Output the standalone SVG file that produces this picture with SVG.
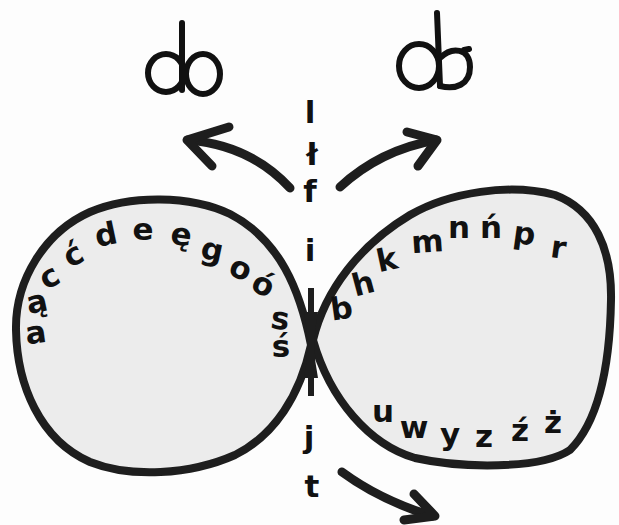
<svg xmlns="http://www.w3.org/2000/svg" width="619" height="525" viewBox="0 0 619 525">
<style>
.blob{fill:#ececec;stroke:#1e1e1e;stroke-width:8;stroke-linejoin:round}
.sym{fill:none;stroke:#111;stroke-width:6;stroke-linecap:round}
.arr{fill:none;stroke:#1e1e1e;stroke-width:9;stroke-linecap:round;stroke-linejoin:round}
text{font-family:"DejaVu Sans","Liberation Sans",sans-serif;font-size:31px;font-weight:bold;fill:#111;text-anchor:middle}
</style>
<rect width="619" height="525" fill="#fdfdfd"/>
<g id="left-blob">
<path class="blob" d="M 311 345 C 300 290, 280 240, 230 214 C 190 195, 130 195, 90 212 C 45 232, 15 280, 16 330 C 17 385, 40 440, 90 462 C 130 478, 190 475, 235 455 C 275 435, 300 395, 311 345 Z"/>
<text transform="translate(37,343) rotate(-8)">a</text>
<text transform="translate(39,312) rotate(-12)">ą</text>
<text transform="translate(54,286) rotate(-28)">c</text>
<text transform="translate(78,264) rotate(-28)">ć</text>
<text transform="translate(108,245) rotate(-12)">d</text>
<text transform="translate(143,240)">e</text>
<text transform="translate(180,245) rotate(8)">ę</text>
<text transform="translate(210,260) rotate(12)">g</text>
<text transform="translate(237,278) rotate(22)">o</text>
<text transform="translate(259,294) rotate(25)">ó</text>
<text transform="translate(279,329) rotate(8)">s</text>
<text transform="translate(281,357)">ś</text>
</g>
<g id="right-blob">
<path class="blob" d="M 313 340 C 325 290, 360 245, 410 215 C 450 192, 510 183, 555 195 C 595 210, 612 250, 611 300 C 610 360, 600 420, 570 450 C 540 470, 460 468, 415 458 C 370 445, 330 400, 313 340 Z"/>
<text transform="translate(343,319) rotate(-8)">b</text>
<text transform="translate(366,294) rotate(-15)">h</text>
<text transform="translate(389,270) rotate(-12)">k</text>
<text transform="translate(428,252) rotate(-4)">m</text>
<text transform="translate(459,238)">n</text>
<text transform="translate(491,238)">ń</text>
<text transform="translate(523,244) rotate(8)">p</text>
<text transform="translate(557,258) rotate(8)">r</text>
<text transform="translate(383,422)">u</text>
<text transform="translate(414,438)">w</text>
<text transform="translate(450,445)">y</text>
<text transform="translate(484,447)">z</text>
<text transform="translate(520,441)">ź</text>
<text transform="translate(553,433)">ż</text>
</g>
<g id="middle">
<line x1="311" y1="288" x2="311" y2="396" stroke="#1e1e1e" stroke-width="6"/>
<path d="M 304 312 Q 311 345 304 378 L 318 378 Q 311 345 318 312 Z" fill="#1e1e1e"/>
<text x="310" y="123">l</text>
<text x="312" y="165">ł</text>
<text x="310" y="202">f</text>
<text x="310" y="261">i</text>
<text x="309" y="448">j</text>
<text x="312" y="497">t</text>
</g>
<g id="sym-left">
<ellipse class="sym" cx="166" cy="73" rx="18" ry="19"/>
<ellipse class="sym" cx="203" cy="74" rx="17" ry="20"/>
<line class="sym" x1="182" y1="23" x2="182" y2="90"/>
</g>
<g id="sym-right">
<ellipse class="sym" cx="419" cy="66" rx="20" ry="22"/>
<line class="sym" x1="437" y1="13" x2="440" y2="86"/>
<path class="sym" d="M 440 58 C 452 46, 470 48, 470 67 C 470 85, 455 90, 440 86 M 464 50 L 469 49"/>
</g>
<g id="connectors">
<path class="arr" d="M 290 188 Q 250 145 188 140"/>
<path class="arr" d="M 229 127 L 187 140 L 212 166"/>
<path class="arr" d="M 340 187 Q 380 150 436 140"/>
<path class="arr" d="M 407 132 L 437 140 L 418 166"/>
<path class="arr" d="M 342 472 Q 380 500 432 516"/>
<path class="arr" d="M 414 494 L 435 516 L 404 520"/>
</g>
</svg>
